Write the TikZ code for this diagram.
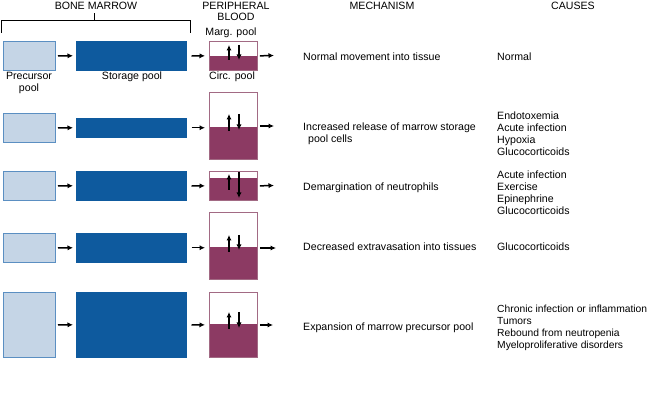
\documentclass[tikz,border=0pt]{standalone}
\usepackage{fontspec}
\setmainfont{Liberation Sans}
\usetikzlibrary{arrows.meta,calc}
\definecolor{precfill}{HTML}{C5D5E6}
\definecolor{precdraw}{HTML}{5B8FC2}
\definecolor{storfill}{HTML}{0E5A9E}
\definecolor{bloodfill}{HTML}{8C3A63}
\definecolor{blooddraw}{HTML}{A26A84}
\begin{document}
\begin{tikzpicture}[x=1pt,y=-1pt,
  every node/.style={font=\fontsize{10.6}{12}\selectfont, inner sep=0pt},
  prebox/.style={draw=precdraw, fill=precfill, line width=1pt, anchor=north west, minimum width=52pt},
  storbox/.style={fill=storfill, draw=storfill, line width=0.5pt, anchor=north west, minimum width=110pt},
  bloodbox/.style={draw=blooddraw, fill=white, line width=0.8pt, anchor=north west, minimum width=48pt},
  bloodborder/.style={draw=blooddraw, line width=0.8pt},
  arr/.style={-{Latex[length=5.5pt,width=5.2pt]}, line width=1.5pt},
  parr/.style={arr, shorten <=2pt, shorten >=3pt},
  sarr/.style={arr, shorten <=5pt, shorten >=4pt},
  oarr/.style={arr, shorten <=2pt},
  mech/.style={anchor=west, align=left},
  cause/.style={anchor=west, align=left},
  brack/.style={line width=0.8pt}]
\path[use as bounding box, fill=white] (0,0) rectangle (650,411);

% headings
\node (bm) at (96,6) {BONE MARROW};
\node[align=center, font=\fontsize{10.6}{11}\selectfont] (pb) at (236,11.5) {PERIPHERAL\\BLOOD};
\node (mh) at (382,6) {MECHANISM};
\node (ch) at (573,6) {CAUSES};
\coordinate (bl) at (1,33);
\coordinate (br) at (190,33);
\coordinate (bt) at (94,13);
\draw[brack] (bl) -- (1,20) -- (190,20) -- (br);
\draw[brack] (94,20) -- (bt);
\node (marg) at (231,33) {Marg. pool};
\node[align=center] (precl) at (29,83) {Precursor\\pool};
\node (storl) at (132,77) {Storage pool};
\node (circ) at (232,77) {Circ. pool};

% ---------- row 1
\node[prebox, minimum height=29pt] (p1) at (3,41) {};
\node[storbox, minimum height=29pt] (s1) at (76,41) {};
\node[bloodbox, minimum height=29pt] (b1) at (209,41) {};
\coordinate (m1) at (233,56);
\fill[bloodfill] (b1.south west) rectangle (b1.east |- m1);
\draw[bloodborder] (b1.south west) rectangle (b1.north east);
\draw[arr] ($(m1)+(-4,4)$) -- ($(m1)+(-4,-11)$);
\draw[arr] ($(m1)+(6,-11)$) -- ($(m1)+(6,4)$);
\coordinate (o1) at (274,55.5);
\draw[parr] (p1.east) -- (s1.west);
\draw[sarr] (s1.east) -- (b1.west);
\draw[oarr] (b1.east) -- (o1);

% ---------- row 2
\node[prebox, minimum height=29pt] (p2) at (3,113) {};
\node[storbox, minimum height=19pt] (s2) at (76,118) {};
\node[bloodbox, minimum height=67pt] (b2) at (209,92) {};
\coordinate (m2) at (233,127);
\fill[bloodfill] (b2.south west) rectangle (b2.east |- m2);
\draw[bloodborder] (b2.south west) rectangle (b2.north east);
\draw[arr] ($(m2)+(-4,4)$) -- ($(m2)+(-4,-13)$);
\draw[arr] ($(m2)+(6,-13)$) -- ($(m2)+(6,3)$);
\coordinate (o2) at (274,126);
\draw[parr] (p2.east) -- (s2.west);
\draw[sarr] (s2.east) -- (s2.east -| b2.west);
\draw[oarr] (b2.east |- o2) -- (o2);

% ---------- row 3
\node[prebox, minimum height=29pt] (p3) at (3,171) {};
\node[storbox, minimum height=29pt] (s3) at (76,171) {};
\node[bloodbox, minimum height=29pt] (b3) at (209,171) {};
\coordinate (m3) at (233,178);
\fill[bloodfill] (b3.south west) rectangle (b3.east |- m3);
\draw[bloodborder] (b3.south west) rectangle (b3.north east);
\draw[arr] ($(m3)+(-4,12)$) -- ($(m3)+(-4,-4)$);
\draw[arr] ($(m3)+(6,-6)$) -- ($(m3)+(6,20)$);
\coordinate (o3) at (274,185.5);
\draw[parr] (p3.east) -- (s3.west);
\draw[sarr] (s3.east) -- (b3.west);
\draw[oarr] (b3.east) -- (o3);

% ---------- row 4
\node[prebox, minimum height=29pt] (p4) at (3,233) {};
\node[storbox, minimum height=29pt] (s4) at (76,233) {};
\node[bloodbox, minimum height=67pt] (b4) at (209,212) {};
\coordinate (m4) at (233,247);
\fill[bloodfill] (b4.south west) rectangle (b4.east |- m4);
\draw[bloodborder] (b4.south west) rectangle (b4.north east);
\draw[arr] ($(m4)+(-4,5)$) -- ($(m4)+(-4,-12)$);
\draw[arr] ($(m4)+(6,-12)$) -- ($(m4)+(6,3)$);
\coordinate (o4) at (276,248);
\draw[parr] (p4.east) -- (s4.west);
\draw[sarr] (s4.east) -- (s4.east -| b4.west);
\draw[oarr] (b4.east |- o4) -- (o4);

% ---------- row 5
\node[prebox, minimum height=65pt] (p5) at (3,292) {};
\node[storbox, minimum height=65pt] (s5) at (76,292) {};
\node[bloodbox, minimum height=65pt] (b5) at (209,292) {};
\coordinate (m5) at (233,324);
\fill[bloodfill] (b5.south west) rectangle (b5.east |- m5);
\draw[bloodborder] (b5.south west) rectangle (b5.north east);
\draw[arr] ($(m5)+(-4,5)$) -- ($(m5)+(-4,-12)$);
\draw[arr] ($(m5)+(6,-12)$) -- ($(m5)+(6,4)$);
\coordinate (o5) at (273,325);
\draw[parr] (p5.east) -- (s5.west);
\draw[sarr] (s5.east) -- (b5.west);
\draw[oarr] (b5.east |- o5) -- (o5);

% ---------- mechanism
\node[mech] (t1) at (303,57) {Normal movement into tissue};
\node[mech] (t2) at (303,134) {Increased release of marrow storage\\\hspace*{5pt}pool cells};
\node[mech] (t3) at (303,188) {Demargination of neutrophils};
\node[mech] (t4) at (303,247) {Decreased extravasation into tissues};
\node[mech] (t5) at (303,328) {Expansion of marrow precursor pool};

% ---------- causes
\node[cause] (c1) at (497,57) {Normal};
\node[cause] (c2) at (497,134) {Endotoxemia\\Acute infection\\Hypoxia\\Glucocorticoids};
\node[cause] (c3) at (497,193) {Acute infection\\Exercise\\Epinephrine\\Glucocorticoids};
\node[cause] (c4) at (497,247) {Glucocorticoids};
\node[cause, font=\fontsize{10.3}{12}\selectfont] (c5) at (497,328) {Chronic infection or inflammation\\Tumors\\Rebound from neutropenia\\Myeloproliferative disorders};
\end{tikzpicture}
\end{document}
